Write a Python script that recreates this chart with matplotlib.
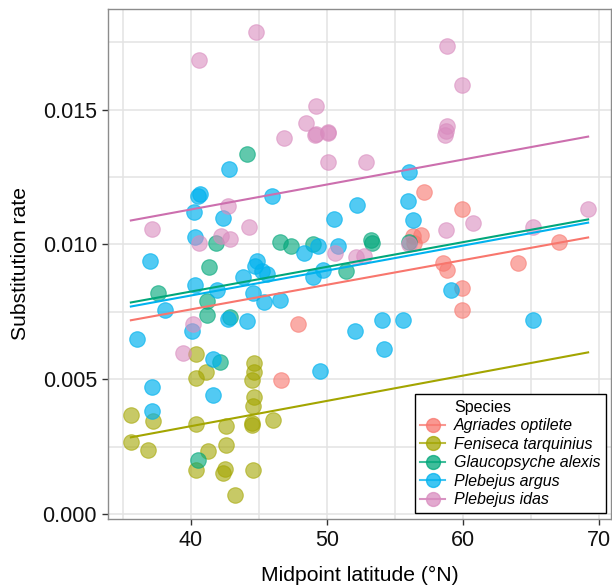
import matplotlib
matplotlib.use("Agg")
import matplotlib.pyplot as plt
from matplotlib.lines import Line2D
from matplotlib.ticker import FormatStrFormatter, MultipleLocator


SPECIES = [
    "Agriades optilete",
    "Feniseca tarquinius",
    "Glaucopsyche alexis",
    "Plebejus argus",
    "Plebejus idas",
]

AGRIADES_LAT = [47.87, 46.62, 57.13, 59.93, 58.53, 58.82, 59.93, 59.93, 64.04,
                67.06, 56.91, 56.32, 56.40]
AGRIADES_RATE = [0.00707, 0.00496, 0.01196, 0.01130, 0.00933, 0.00907, 0.00837,
                 0.00756, 0.00933, 0.01011, 0.01037, 0.01030, 0.01004]

FENISECA_LAT = [40.37, 40.37, 41.10, 44.63, 44.63, 44.49, 44.63, 44.56, 35.59,
                37.21, 40.37, 42.57, 44.49, 44.49, 46.03, 35.59, 36.84, 41.25,
                42.57, 40.37, 42.50, 42.35, 44.56, 43.24]
FENISECA_RATE = [0.00593, 0.00504, 0.00526, 0.00559, 0.00526, 0.00496, 0.00433,
                 0.00400, 0.00367, 0.00344, 0.00333, 0.00326, 0.00330, 0.00337,
                 0.00348, 0.00267, 0.00237, 0.00233, 0.00256, 0.00163, 0.00167,
                 0.00152, 0.00163, 0.00070]

GLAUCOPSYCHE_LAT = [44.12, 41.84, 41.32, 37.57, 41.18, 41.18, 42.87, 46.54, 47.35,
                    48.97, 53.24, 53.31, 51.40, 56.03, 42.13, 40.51]
GLAUCOPSYCHE_RATE = [0.01337, 0.01004, 0.00915, 0.00819, 0.00789, 0.00737, 0.00730,
                     0.01011, 0.00996, 0.01000, 0.01015, 0.01007, 0.00900, 0.01011,
                     0.00563, 0.00200]

ARGUS_LAT = [42.79, 40.66, 40.51, 40.22, 42.35, 45.96, 50.51, 52.21, 56.03, 55.96,
             56.32, 40.29, 36.99, 44.85, 44.71, 45.22, 45.59, 43.82, 40.29, 41.91,
             44.56, 45.37, 46.54, 48.31, 49.34, 50.81, 49.71, 48.97, 44.12, 42.72,
             38.09, 40.07, 36.03, 41.62, 49.49, 37.13, 37.13, 41.62, 52.06, 54.04,
             55.59, 54.19, 59.12, 65.15]
ARGUS_RATE = [0.01281, 0.01189, 0.01178, 0.01122, 0.01100, 0.01178, 0.01096,
              0.01148, 0.01267, 0.01163, 0.01089, 0.01026, 0.00937, 0.00937,
              0.00922, 0.00900, 0.00889, 0.00881, 0.00848, 0.00833, 0.00819,
              0.00785, 0.00796, 0.00967, 0.00993, 0.00996, 0.00907, 0.00881,
              0.00715, 0.00722, 0.00756, 0.00681, 0.00648, 0.00574, 0.00530,
              0.00470, 0.00381, 0.00441, 0.00678, 0.00719, 0.00719, 0.00611,
              0.00830, 0.00719]

IDAS_LAT = [44.78, 40.59, 58.82, 59.93, 49.19, 48.46, 49.12, 49.20, 50.07, 50.10,
            46.84, 50.07, 52.87, 58.82, 58.75, 58.68, 37.13, 42.72, 44.26, 42.21,
            42.87, 40.59, 40.15, 39.41, 50.59, 52.13, 52.72, 56.03, 58.75, 60.74,
            65.15, 69.19]
IDAS_RATE = [0.01789, 0.01685, 0.01737, 0.01593, 0.01515, 0.01452, 0.01407,
             0.01411, 0.01415, 0.01418, 0.01396, 0.01307, 0.01304, 0.01441,
             0.01419, 0.01407, 0.01059, 0.01144, 0.01063, 0.01030, 0.01022,
             0.01004, 0.00707, 0.00596, 0.00970, 0.00952, 0.00956, 0.01000,
             0.01052, 0.01078, 0.01063, 0.01133]

# fitted lines: rate at lowest and highest latitude
FIT_START = [0.00719, 0.00285, 0.00785, 0.00770, 0.01089]
FIT_END = [0.01026, 0.00600, 0.01093, 0.01081, 0.01400]

POINT_COLORS = ["#F8766D", "#A3A500", "#00A77A", "#00B2EE", "#D98CBF"]
POINT_ALPHA = [0.6, 0.6, 0.62, 0.68, 0.6]
LINE_COLORS = ["#F8766D", "#A3A500", "#00A77A", "#00B2EE", "#CC6FAE"]

FONT = ["Liberation Sans", "DejaVu Sans"]


def draw_chart(path):
    lats = [AGRIADES_LAT, FENISECA_LAT, GLAUCOPSYCHE_LAT, ARGUS_LAT, IDAS_LAT]
    rates = [AGRIADES_RATE, FENISECA_RATE, GLAUCOPSYCHE_RATE, ARGUS_RATE, IDAS_RATE]

    plt.rcParams["font.family"] = FONT
    fig = plt.figure(figsize=(6.12, 5.86), dpi=100)
    ax = fig.add_axes([108 / 612, 1 - 518.5 / 586, 503 / 612, 510 / 586])

    for lat, rate, color, alpha in zip(lats, rates, POINT_COLORS, POINT_ALPHA):
        ax.scatter(lat, rate, s=125, color=color, alpha=alpha, edgecolors=color,
                   linewidths=0.8, zorder=3)

    x_min = min(min(v) for v in lats)
    x_max = max(max(v) for v in lats)
    for start, end, color in zip(FIT_START, FIT_END, LINE_COLORS):
        ax.plot([x_min, x_max], [start, end], color=color, lw=1.5, zorder=4)

    ax.margins(0.05)
    ax.xaxis.set_major_locator(MultipleLocator(10))
    ax.xaxis.set_minor_locator(MultipleLocator(5))
    ax.yaxis.set_major_locator(MultipleLocator(0.005))
    ax.yaxis.set_minor_locator(MultipleLocator(0.0025))
    ax.yaxis.set_major_formatter(FormatStrFormatter("%.3f"))

    ax.grid(which="both", color="#E3E3E3", lw=1.1, zorder=0)
    ax.set_axisbelow(True)
    ax.tick_params(which="major", direction="out", length=4, width=1,
                   color="#333333", labelsize=15.5, labelcolor="#111111", pad=4)
    ax.tick_params(which="minor", length=0)
    for spine in ax.spines.values():
        spine.set_color("#8C8C8C")
        spine.set_linewidth(1)

    ax.set_xlabel("Midpoint latitude (°N)", fontsize=15.2, labelpad=11)
    ax.set_ylabel("Substitution rate", fontsize=15.2, labelpad=9)

    handles = [Line2D([], [], alpha=0)]
    for pcol, lcol in zip(POINT_COLORS, LINE_COLORS):
        handles.append(Line2D([], [], color=lcol, lw=1.5, marker="o",
                              markersize=10, markerfacecolor=pcol,
                              markeredgecolor=pcol, alpha=1))
    legend = ax.legend(handles, ["Species"] + SPECIES, loc="lower right",
                       bbox_to_anchor=(0.990, 0.011), borderaxespad=0,
                       fontsize=11.5, frameon=True, fancybox=False,
                       edgecolor="black", framealpha=1, handlelength=1.55,
                       handletextpad=0.55, labelspacing=0.22, borderpad=0.35)
    legend.get_frame().set_linewidth(1.0)
    for line in legend.get_lines()[1:]:
        line.set_alpha(0.75)
    for text in legend.get_texts()[1:]:
        text.set_fontstyle("italic")
    legend.set_zorder(5)

    fig.savefig(path, dpi=100)
    plt.close(fig)


def main():
    draw_chart("out.png")


if __name__ == "__main__":
    main()
